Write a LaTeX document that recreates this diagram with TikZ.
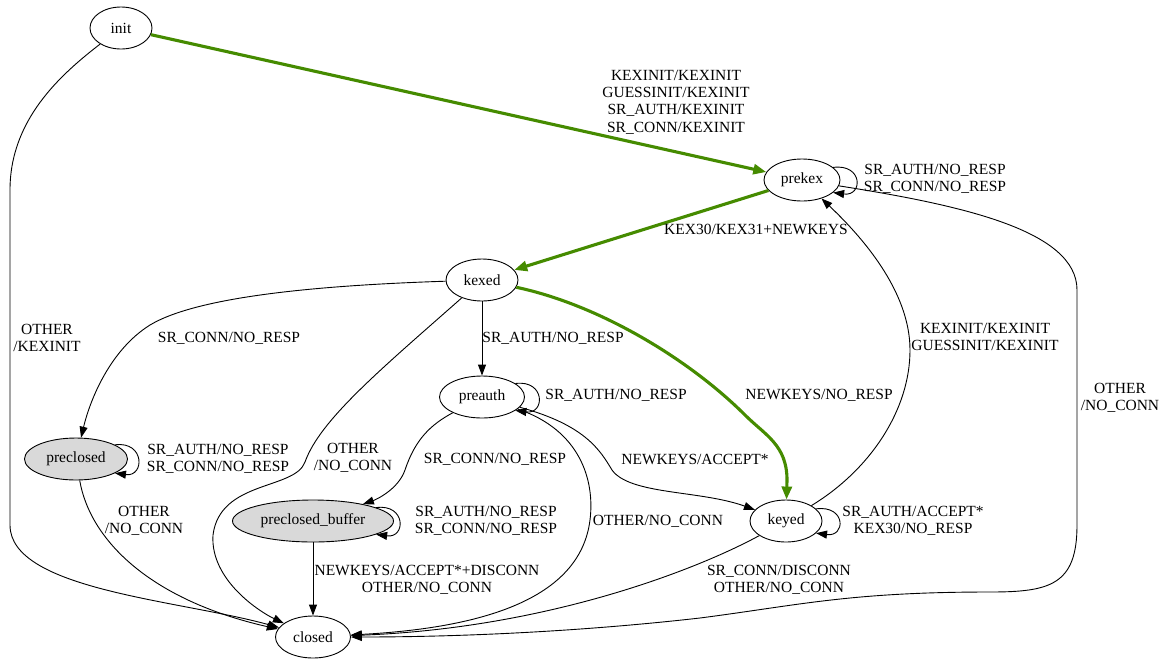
\documentclass[tikz,border=0pt]{standalone}
\usepackage{fontspec}
\setmainfont{Liberation Serif}
\usetikzlibrary{arrows.meta,shapes.geometric}
\definecolor{pathgreen}{HTML}{458B00}
\definecolor{stategray}{HTML}{D9D9D9}
\begin{document}
\begin{tikzpicture}[x=1pt,y=-1pt,
  every node/.style={font=\fontsize{15.5}{17.3}\selectfont},
  state/.style={ellipse,draw,line width=0.9pt,inner sep=0pt,minimum height=42pt},
  closing/.style={state,fill=stategray},
  edge/.style={draw,line width=0.9pt,-{Triangle[length=11pt,width=8pt]}},
  happy/.style={draw=pathgreen,line width=3.1pt,-{Triangle[length=13pt,width=10pt]},color=pathgreen},
  lbl/.style={align=center,inner sep=0pt}
]
\useasboundingbox (0,0) rectangle (1164,662);

% states
\node[state,minimum width=62pt]   (init)      at (121,28)  {init};
\node[state,minimum width=76pt]   (prekex)    at (802,180) {prekex};
\node[state,minimum width=72pt]   (kexed)     at (482,280) {kexed};
\node[state,minimum width=85pt]   (preauth)   at (482,397) {preauth};
\node[state,minimum width=72pt]   (keyed)     at (786,521) {keyed};
\node[closing,minimum width=103pt](preclosed) at (76,459)  {preclosed};
\node[closing,minimum width=161pt](pcbuf)     at (313,521) {preclosed\_buffer};
\node[state,minimum width=75pt]   (closed)    at (313,637) {closed};

% main handshake path
\draw[happy] (init) -- (prekex);
\draw[happy] (prekex) -- (kexed);
\draw[happy] (kexed) .. controls (600,305) and (690,360) .. (745,415)
             .. controls (765,435) and (787,445) .. (787,480) -- (keyed);

% other transitions
\draw[edge] (init) .. controls (60,75) and (10,120) .. (10,190) -- (10,525)
            .. controls (10,590) and (180,600) .. (closed);
\draw[edge] (prekex.22) .. controls +(30,-4) and +(30,4) .. (prekex.-22);
\draw[edge] (prekex) .. controls (960,205) and (1077,230) .. (1077,290) -- (1077,525)
            .. controls (1077,585) and (1050,592) .. (990,592)
            .. controls (850,592) and (800,605) .. (700,618)
            .. controls (550,635) and (420,637) .. (closed);
\draw[edge] (kexed) .. controls (330,285) and (200,295) .. (150,325)
            .. controls (110,350) and (90,400) .. (preclosed);
\draw[edge] (kexed) .. controls (380,370) and (320,420) .. (305,462)
            .. controls (295,490) and (220,480) .. (213,535)
            .. controls (210,580) and (260,612) .. (closed);
\draw[edge] (kexed) -- (preauth);
\draw[edge] (preauth.22) .. controls +(30,-4) and +(30,4) .. (preauth.-22);
\draw[edge] (preauth) .. controls (430,425) and (415,440) .. (405,470)
            .. controls (398,490) and (375,500) .. (pcbuf);
\draw[edge] (preauth) .. controls (580,430) and (595,480) .. (590,520)
            .. controls (580,600) and (480,628) .. (closed);
\draw[edge] (preauth) .. controls (585,425) and (600,450) .. (612,470)
            .. controls (630,495) and (700,490) .. (keyed);
\draw[edge] (keyed.22) .. controls +(30,-4) and +(30,4) .. (keyed.-22);
\draw[edge] (keyed) .. controls (870,470) and (910,410) .. (910,350)
            .. controls (910,290) and (860,235) .. (prekex);
\draw[edge] (keyed) .. controls (700,568) and (550,628) .. (closed);
\draw[edge] (preclosed.20) .. controls +(30,-4) and +(30,4) .. (preclosed.-20);
\draw[edge] (preclosed) .. controls (90,540) and (150,600) .. (closed);
\draw[edge] (pcbuf.12) .. controls +(30,-4) and +(30,4) .. (pcbuf.-12);
\draw[edge] (pcbuf) -- (closed);

% transition labels
\node[lbl] (t1)  at (676,102) {KEXINIT/KEXINIT\\GUESSINIT/KEXINIT\\SR\_AUTH/KEXINIT\\SR\_CONN/KEXINIT};
\node[lbl] (t2)  at (47,338)  {OTHER\\/KEXINIT};
\node[lbl] (t3)  at (935,179) {SR\_AUTH/NO\_RESP\\SR\_CONN/NO\_RESP};
\node[lbl] (t4)  at (756,229) {KEX30/KEX31+NEWKEYS};
\node[lbl] (t5)  at (229,338) {SR\_CONN/NO\_RESP};
\node[lbl] (t6)  at (553,338) {SR\_AUTH/NO\_RESP};
\node[lbl] (t7)  at (819,395) {NEWKEYS/NO\_RESP};
\node[lbl] (t8)  at (616,395) {SR\_AUTH/NO\_RESP};
\node[lbl] (t9)  at (985,337) {KEXINIT/KEXINIT\\GUESSINIT/KEXINIT};
\node[lbl] (t10) at (1120,398) {OTHER\\/NO\_CONN};
\node[lbl] (t11) at (218,459) {SR\_AUTH/NO\_RESP\\SR\_CONN/NO\_RESP};
\node[lbl] (t12) at (353,458) {OTHER\\/NO\_CONN};
\node[lbl] (t13) at (495,459) {SR\_CONN/NO\_RESP};
\node[lbl] (t14) at (695,459) {NEWKEYS/ACCEPT*};
\node[lbl] (t15) at (144,521) {OTHER\\/NO\_CONN};
\node[lbl] (t16) at (486,521) {SR\_AUTH/NO\_RESP\\SR\_CONN/NO\_RESP};
\node[lbl] (t17) at (658,521) {OTHER/NO\_CONN};
\node[lbl] (t18) at (913,521) {SR\_AUTH/ACCEPT*\\KEX30/NO\_RESP};
\node[lbl] (t19) at (427,580) {NEWKEYS/ACCEPT*+DISCONN\\OTHER/NO\_CONN};
\node[lbl] (t20) at (779,580) {SR\_CONN/DISCONN\\OTHER/NO\_CONN};
\end{tikzpicture}
\end{document}
